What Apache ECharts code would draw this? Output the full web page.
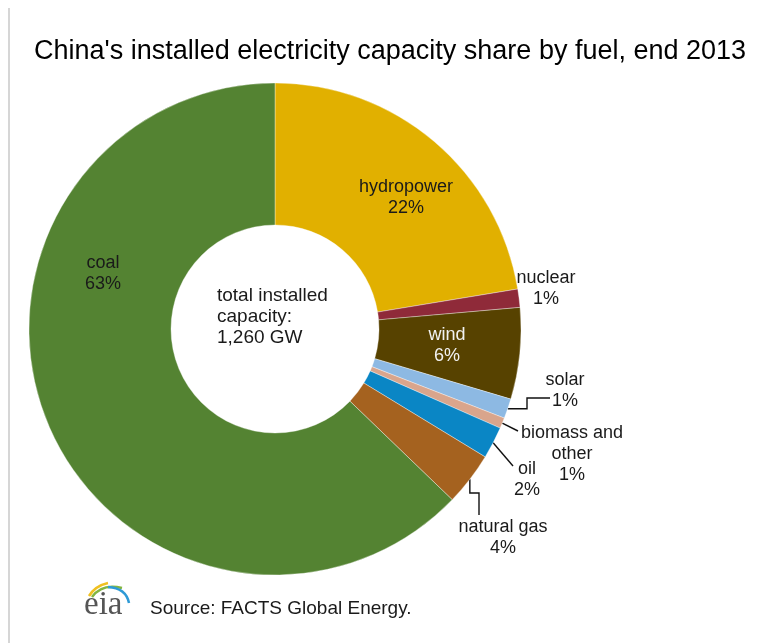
<!DOCTYPE html>
<html>
<head>
<meta charset="utf-8">
<script src="https://cdn.jsdelivr.net/npm/echarts@6/dist/echarts.min.js"></script>
<style>
html,body{margin:0;padding:0;background:#fff;}
#chart{width:759px;height:643px;}
</style>
</head>
<body>
<div id="chart"></div>
<script>
// ---- data ----
var fuels = ['hydropower', 'nuclear', 'wind', 'solar', 'biomass and\nother', 'oil', 'natural gas', 'coal'];
var shares = [22.4, 1.2, 6.0, 1.3, 0.7, 2.1, 3.5, 62.8];
var titleText = "China's installed electricity capacity share by fuel, end 2013";
var centerText = 'total installed\ncapacity:\n1,260 GW';
var sourceText = 'Source: FACTS Global Energy.';

// ---- styles ----
var colors = {
  'hydropower': '#E1B000',
  'nuclear': '#8F2A39',
  'wind': '#574200',
  'solar': '#8DB9E3',
  'biomass and\nother': '#D9A58C',
  'oil': '#0A86C5',
  'natural gas': '#A5621F',
  'coal': '#548332'
};
var insideLabels = {'hydropower': true, 'wind': true, 'coal': true};
var noLine = {'nuclear': true};
var labelColors = {'wind': '#f2f2f2'};
var labelSpots = {
  'hydropower': [406, 198],
  'coal': [103, 274],
  'nuclear': [546, 289],
  'wind': [447, 346],
  'solar': [565, 391],
  'biomass and\nother': [572, 454],
  'oil': [527, 480],
  'natural gas': [503, 538]
};
// leader-line routes after the slice anchor (annotation styling)
var lineRoutes = {
  'solar': function (a) { return [a, [527, a[1]], [527, 398], [550, 398]]; },
  'biomass and\nother': function (a) { return [a, [518, 431]]; },
  'oil': function (a) { return [a, [513, 466]]; },
  'natural gas': function (a) { return [a, [a[0], 493], [479, 493], [479, 515]]; }
};

var seriesData = fuels.map(function (f, i) {
  var inside = !!insideLabels[f];
  return {
    name: f,
    value: shares[i],
    itemStyle: {color: colors[f]},
    label: {
      position: inside ? 'inside' : 'outside',
      color: labelColors[f] || '#1a1a1a'
    },
    labelLine: {show: !inside && !noLine[f]}
  };
});

var chart = echarts.init(document.getElementById('chart'), null, {renderer: 'canvas'});
chart.setOption({
  animation: false,
  backgroundColor: '#ffffff',
  title: {
    text: titleText,
    left: 29,
    top: 33,
    textStyle: {fontFamily: 'Liberation Sans, Arial', fontSize: 27, fontWeight: 'normal', color: '#000'}
  },
  graphic: [
    {type: 'line', shape: {x1: 9, y1: 8, x2: 9, y2: 643}, style: {stroke: '#d6d6d6', lineWidth: 2}, silent: true},
    {type: 'text', left: 217, top: 285, style: {text: centerText, font: '19px "Liberation Sans", Arial', fill: '#1a1a1a', lineHeight: 21}},
    {type: 'text', left: 150, top: 599, style: {text: sourceText, font: '19px "Liberation Sans", Arial', fill: '#1a1a1a'}},
    {type: 'text', left: 84, top: 589, style: {text: 'eia', font: '33px "Liberation Serif", "DejaVu Serif", serif', fill: '#555'}},
    {type: 'bezierCurve', shape: {x1: 89, y1: 596, cpx1: 95, cpy1: 586, x2: 108, y2: 583}, style: {stroke: '#F0C020', lineWidth: 2.5, fill: null}},
    {type: 'bezierCurve', shape: {x1: 92, y1: 597, cpx1: 102, cpy1: 583, x2: 122, y2: 588}, style: {stroke: '#82B541', lineWidth: 2.5, fill: null}},
    {type: 'bezierCurve', shape: {x1: 108, y1: 587, cpx1: 126, cpy1: 588, x2: 129, y2: 603}, style: {stroke: '#2E9AD6', lineWidth: 2.5, fill: null}}
  ],
  series: [{
    type: 'pie',
    center: [275, 329],
    radius: [104, 246],
    startAngle: 90,
    clockwise: true,
    avoidLabelOverlap: false,
    itemStyle: {borderColor: 'rgba(255,255,255,0.6)', borderWidth: 0.6},
    label: {
      show: true,
      formatter: function (p) { return p.name + '\n' + Math.round(p.value) + '%'; },
      fontFamily: 'Liberation Sans, Arial',
      fontSize: 18,
      lineHeight: 21,
      align: 'center',
      color: '#1a1a1a'
    },
    labelLine: {show: true, length: 8, length2: 8, smooth: false, lineStyle: {color: '#111', width: 1.4}},
    labelLayout: function (p) {
      var f = fuels[p.dataIndex];
      var s = labelSpots[f];
      var out = {x: s[0], y: s[1], align: 'center', verticalAlign: 'middle'};
      if (lineRoutes[f] && p.labelLinePoints && p.labelLinePoints[0]) {
        out.labelLinePoints = lineRoutes[f](p.labelLinePoints[0]);
      }
      return out;
    },
    emphasis: {disabled: true},
    data: seriesData
  }]
});
</script>
</body>
</html>
